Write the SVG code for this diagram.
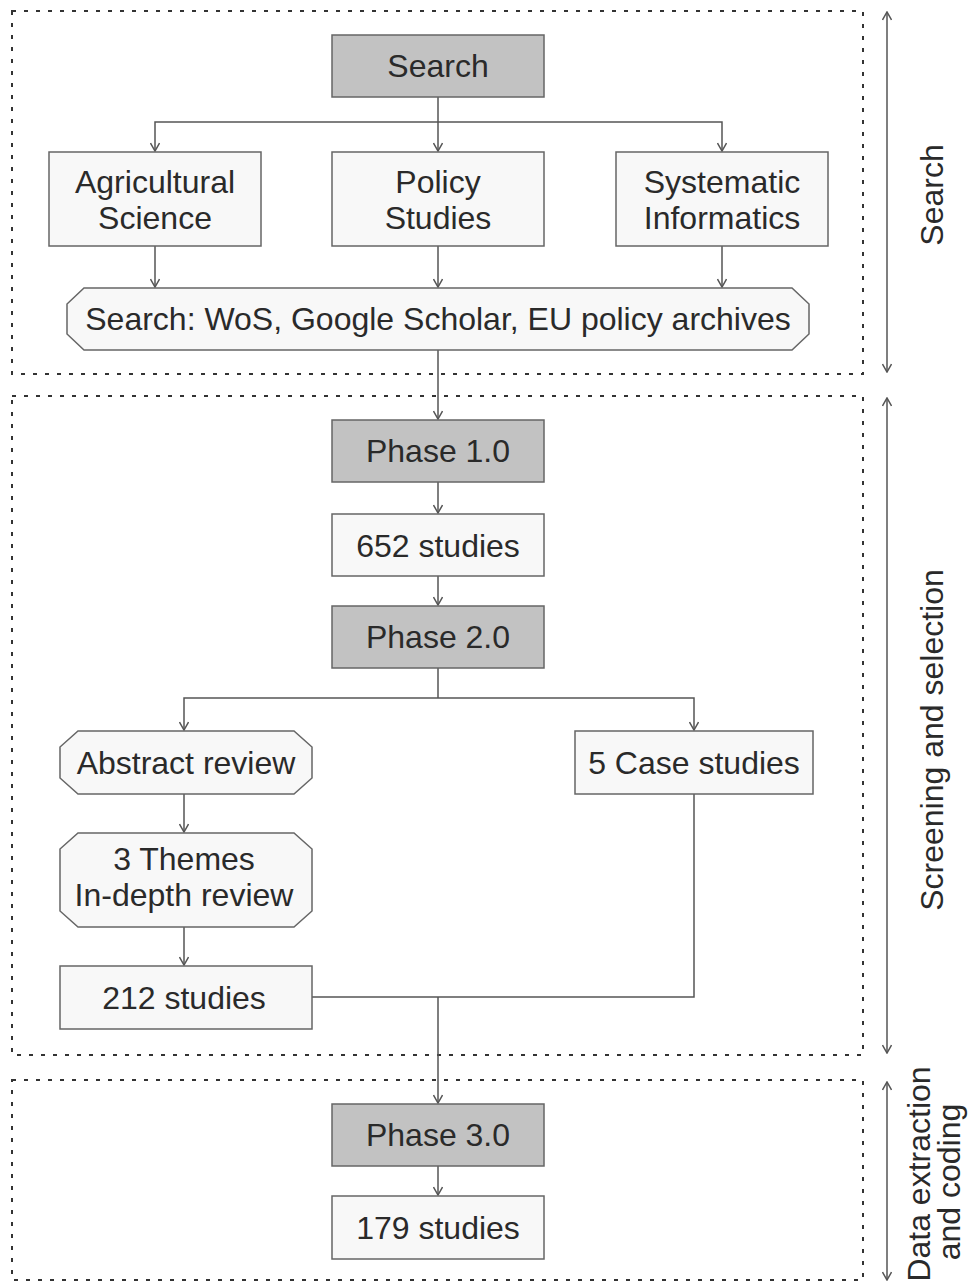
<svg xmlns="http://www.w3.org/2000/svg" width="971" height="1283" viewBox="0 0 971 1283">
<defs>
<style>
.frame{fill:none;stroke:#333;stroke-width:2;stroke-dasharray:4 8}
.gray{fill:#c2c2c2;stroke:#666;stroke-width:1.5}
.light{fill:#f8f8f8;stroke:#666;stroke-width:1.5}
.t{font-family:"Liberation Sans",Arial,sans-serif;font-size:32px;fill:#2a2a2a;text-anchor:middle}
.c{fill:none;stroke:#555;stroke-width:1.5}
</style>
<marker id="ah" viewBox="0 0 10 10" refX="9" refY="5" markerWidth="10" markerHeight="10" markerUnits="userSpaceOnUse" orient="auto-start-reverse">
<polyline points="1,0.5 9,5 1,9.5" fill="none" stroke="#555" stroke-width="1.5"/>
</marker>
</defs>
<rect width="971" height="1283" fill="#ffffff"/>

<g id="frames">
<rect class="frame" x="12" y="11" width="851" height="363"/>
<rect class="frame" x="12" y="396" width="851" height="659"/>
<rect class="frame" x="12" y="1080" width="851" height="200"/>
</g>

<g id="connectors">
<path class="c" d="M438,97 V151" marker-end="url(#ah)"/>
<path class="c" d="M155,151 V122 H722 V151" marker-start="url(#ah)" marker-end="url(#ah)"/>
<path class="c" d="M155,246 V287" marker-end="url(#ah)"/>
<path class="c" d="M438,246 V287" marker-end="url(#ah)"/>
<path class="c" d="M722,246 V287" marker-end="url(#ah)"/>
<path class="c" d="M438,350 V419" marker-end="url(#ah)"/>
<path class="c" d="M438,482 V513" marker-end="url(#ah)"/>
<path class="c" d="M438,576 V605" marker-end="url(#ah)"/>
<path class="c" d="M438,668 V698"/>
<path class="c" d="M184,730 V698 H694 V730" marker-start="url(#ah)" marker-end="url(#ah)"/>
<path class="c" d="M184,794 V832" marker-end="url(#ah)"/>
<path class="c" d="M184,927 V965" marker-end="url(#ah)"/>
<path class="c" d="M694,794 V997 H312"/>
<path class="c" d="M438,997 V1103" marker-end="url(#ah)"/>
<path class="c" d="M438,1166 V1195" marker-end="url(#ah)"/>
<path class="c" d="M887,12 V372" marker-start="url(#ah)" marker-end="url(#ah)"/>
<path class="c" d="M887,398 V1053" marker-start="url(#ah)" marker-end="url(#ah)"/>
<path class="c" d="M887,1082 V1280" marker-start="url(#ah)" marker-end="url(#ah)"/>
</g>

<g id="search">
<rect class="gray" x="332" y="35" width="212" height="62"/>
<text class="t" x="438" y="77">Search</text>
</g>
<g id="agri">
<rect class="light" x="49" y="152" width="212" height="94"/>
<text class="t" x="155" y="193">Agricultural</text>
<text class="t" x="155" y="229">Science</text>
</g>
<g id="policy">
<rect class="light" x="332" y="152" width="212" height="94"/>
<text class="t" x="438" y="193">Policy</text>
<text class="t" x="438" y="229">Studies</text>
</g>
<g id="sysinf">
<rect class="light" x="616" y="152" width="212" height="94"/>
<text class="t" x="722" y="193">Systematic</text>
<text class="t" x="722" y="229">Informatics</text>
</g>
<g id="searchdb">
<polygon class="light" points="84,288 792,288 809,304 809,334 792,350 84,350 67,334 67,304"/>
<text class="t" x="438" y="330">Search: WoS, Google Scholar, EU policy archives</text>
</g>
<g id="phase1">
<rect class="gray" x="332" y="420" width="212" height="62"/>
<text class="t" x="438" y="462">Phase 1.0</text>
</g>
<g id="s652">
<rect class="light" x="332" y="514" width="212" height="62"/>
<text class="t" x="438" y="557">652 studies</text>
</g>
<g id="phase2">
<rect class="gray" x="332" y="606" width="212" height="62"/>
<text class="t" x="438" y="648">Phase 2.0</text>
</g>
<g id="abstract">
<polygon class="light" points="78,731 294,731 312,747 312,778 294,794 78,794 60,778 60,747"/>
<text class="t" x="186" y="774">Abstract review</text>
</g>
<g id="cases">
<rect class="light" x="575" y="731" width="238" height="63"/>
<text class="t" x="694" y="774">5 Case studies</text>
</g>
<g id="themes">
<polygon class="light" points="78,833 294,833 312,849 312,911 294,927 78,927 60,911 60,849"/>
<text class="t" x="184" y="870">3 Themes</text>
<text class="t" x="184" y="906">In-depth review</text>
</g>
<g id="s212">
<rect class="light" x="60" y="966" width="252" height="63"/>
<text class="t" x="184" y="1009">212 studies</text>
</g>
<g id="phase3">
<rect class="gray" x="332" y="1104" width="212" height="62"/>
<text class="t" x="438" y="1146">Phase 3.0</text>
</g>
<g id="s179">
<rect class="light" x="332" y="1196" width="212" height="63"/>
<text class="t" x="438" y="1239">179 studies</text>
</g>

<g id="side-labels">
<text class="t" transform="translate(930,1174) rotate(-90)">Data extraction</text>
<text class="t" transform="translate(960,1182) rotate(-90)">and coding</text>
<text class="t" transform="translate(943,195) rotate(-90)">Search</text>
<text class="t" transform="translate(943,740) rotate(-90)">Screening and selection</text>
</g>
</svg>
